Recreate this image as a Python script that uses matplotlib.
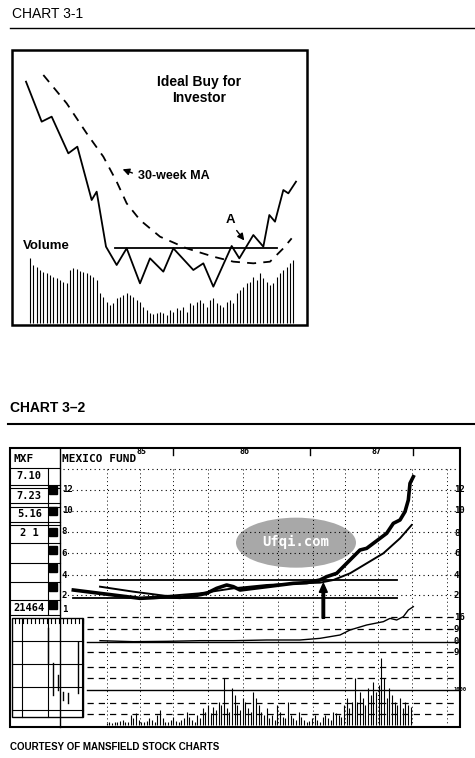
import matplotlib

matplotlib.use("Agg")
import matplotlib.pyplot as plt
from matplotlib.patches import Ellipse, Rectangle, FancyArrow

# ---- Chart 3-1 (values read in 3x zoom pixel units) ----
PRICE1_X = [78, 125, 155, 205, 232, 275, 290, 318, 350, 380, 420, 450, 490, 520, 580, 610, 640,
            695, 718, 760, 790, 808, 825, 850, 865, 888]
PRICE1_Y = [245, 365, 350, 460, 440, 600, 575, 740, 795, 745, 850, 775, 815, 745, 810, 790, 860,
            738, 775, 705, 740, 645, 665, 570, 580, 545]
MA1_X = [130, 200, 260, 310, 350, 380, 420, 480, 560, 640, 700, 760, 810, 850, 875]
MA1_Y = [225, 310, 400, 470, 545, 610, 660, 710, 745, 770, 785, 790, 785, 745, 715]
VOL1_TOP = [775, 795, 800, 810, 815, 820, 825, 830, 835, 840, 845, 850,
            810, 805, 808, 812, 815, 820, 825, 830, 840,
            880, 890, 905, 915, 910,
            895, 890, 885, 880, 885, 890, 900, 905, 920, 930,
            940, 942, 938, 935, 940, 945, 930, 935, 925, 930, 920, 935,
            910, 915, 905, 900, 910, 920, 900, 895, 910, 915, 920, 905, 900, 910,
            880, 870, 860, 850, 845, 830, 840, 820, 835, 845, 855, 850, 830, 820, 810, 800, 790, 780]

# ---- Chart 3-2 ----
PRICE2_X = [220, 260, 300, 340, 380, 420, 460, 500, 540, 580, 620, 650, 680, 700, 720, 760, 800, 840,
            880, 920, 960, 980, 1010, 1040, 1060, 1080, 1100, 1120, 1140, 1160, 1180, 1200, 1215,
            1225, 1230, 1240]
PRICE2_Y = [510, 515, 520, 525, 530, 535, 533, 530, 532, 528, 520, 505, 495, 500, 510, 505, 500, 495,
            490, 488, 480, 470, 460, 430, 410, 390, 385, 370, 355, 340, 310, 300, 275, 240, 190, 170]
MA2_X = [300, 400, 500, 600, 700, 800, 900, 960, 1000, 1050, 1100, 1150, 1200, 1235]
MA2_Y = [500, 515, 528, 520, 505, 495, 490, 488, 480, 460, 430, 400, 355, 315]
RS_X = [300, 400, 500, 600, 700, 800, 900, 960, 1020, 1050, 1100, 1150, 1170, 1190, 1210, 1225, 1240]
RS_Y = [662, 665, 664, 662, 662, 660, 660, 655, 645, 630, 615, 605, 595, 600, 590, 570, 560]
VOL2_H = [5, 8, 6, 10, 8, 12, 15, 10, 8, 30, 20, 35, 15,
          10, 8, 12, 20, 15, 10, 30, 45, 20, 10, 8, 15, 25, 12, 10, 15, 20, 40, 25, 15, 10, 30, 20,
          50, 40, 60, 35, 55, 45, 70, 60, 140, 50, 40, 110, 90, 60, 45, 80, 70, 50, 40, 100, 80, 60,
          40, 30, 50,
          20, 30, 15, 60, 40, 25, 20, 70, 30, 20, 15, 40, 25, 15, 10, 12, 20, 30, 15, 10, 25, 30, 20,
          15, 40,
          35, 30, 25, 60, 80, 50, 70, 140, 70, 100, 80, 60, 110, 90, 130, 100, 120, 200, 140, 80,
          110, 90, 70, 60, 80, 50, 70, 60, 55]
LEFT_AXIS = ["12", "10", "8", "6", "4", "2", "1"]
LEFT_AXIS_Y = [210, 272, 335, 400, 465, 525, 570]
RIGHT_AXIS = ["12", "10", "8", "6", "4", "2", "16", "9", "0", "9"]
RIGHT_AXIS_Y = [210, 272, 340, 400, 465, 525, 592, 627, 665, 697]
INFO_VALUES = ["7.10", "7.23", "5.16", "2 1", "21464"]
INFO_Y = [168, 228, 283, 338, 563]
YEARS = ["85", "86", "87"]
YEARS_X = [425, 735, 1130]

fig = plt.figure(figsize=(4.75, 7.58), dpi=100)
page = fig.add_axes([0, 0, 1, 1])
page.set_xlim(0, 475)
page.set_ylim(758, 0)
page.axis("off")


def zx(v):
    return v / 3


def zy2(v):
    return 420 + v / 3


bold = dict(family="Liberation Sans", fontweight="bold", color="black")
mono = dict(family="DejaVu Sans Mono", fontweight="bold", color="black")

# chart 3-1
page.text(12, 14, "CHART 3-1", fontsize=10, family="Liberation Sans", va="center")
page.plot([10, 475], [28, 28], color="black", lw=1)
page.add_patch(Rectangle((12, 50), 295, 275, fill=False, lw=1.8, ec="black"))
page.vlines([zx(90 + 10 * i) for i in range(len(VOL1_TOP))], [zx(t) for t in VOL1_TOP], 323,
            color="black", lw=0.8)
page.plot([zx(v) for v in PRICE1_X], [zx(v) for v in PRICE1_Y], color="black", lw=1.3)
page.plot([zx(v) for v in MA1_X], [zx(v) for v in MA1_Y], color="black", lw=1.3, ls=(0, (5, 4)))
page.plot([zx(345), zx(830)], [zx(743), zx(743)], color="black", lw=1.3)
page.text(zx(598), zx(245), "Ideal Buy for", fontsize=10, ha="center", va="center", **bold)
page.text(zx(598), zx(295), "Investor", fontsize=10, ha="center", va="center", **bold)
page.text(zx(415), zx(528), "30-week MA", fontsize=9, va="center", **bold)
page.annotate("", xy=(zx(360), zx(505)), xytext=(zx(405), zx(522)),
              arrowprops=dict(arrowstyle="-|>", color="black", lw=1))
page.text(zx(690), zx(660), "A", fontsize=9.5, ha="center", va="center", **bold)
page.annotate("", xy=(zx(738), zx(728)), xytext=(zx(705), zx(685)),
              arrowprops=dict(arrowstyle="-|>", color="black", lw=1))
page.text(zx(68), zx(738), "Volume", fontsize=9.5, va="center", **bold)

# chart 3-2
page.text(10, 408, "CHART 3–2", fontsize=10, va="center", **bold)
page.plot([8, 475], [424, 424], color="black", lw=1.5)
page.add_patch(Rectangle((10, 448), 450, 279, fill=False, lw=1.5, ec="black"))
page.plot([zx(180), zx(180)], [448, 727], color="black", lw=1)
page.plot([zx(1240), zx(1240)], [448, 455], color="black", lw=1)
page.plot([zx(520), zx(520)], [448, 455], color="black", lw=1)
page.plot([zx(930), zx(930)], [448, 455], color="black", lw=1)
page.text(zx(40), zy2(118), "MXF", fontsize=8, va="center", **mono)
page.text(zx(185), zy2(118), "MEXICO FUND", fontsize=8, va="center", **mono)
for lab, x in zip(YEARS, YEARS_X):
    page.text(zx(x), zy2(95), lab, fontsize=6, ha="center", va="center", **mono)

# left info column
for y in [145, 195, 205, 250, 260, 305, 315, 370, 430, 485, 540, 585]:
    page.plot([zx(30), zx(180)], [zy2(y), zy2(y)], color="black", lw=0.8)
page.plot([zx(145), zx(145)], [zy2(145), zy2(585)], color="black", lw=0.8)
for lab, y in zip(INFO_VALUES, INFO_Y):
    page.text(zx(88), zy2(y), lab, fontsize=7.5, ha="center", va="center", **mono)
for y in [210, 272, 335, 390, 445, 500, 555]:
    page.add_patch(Rectangle((zx(147), zy2(y) - 4), 8, 8, color="black"))

# grid
xg = [320, 420, 520, 625, 730, 835, 940, 1035, 1135, 1235, 1340]
for x in xg:
    page.plot([zx(x), zx(x)], [zy2(148), zy2(910)], color="black", lw=0.7, ls=(0, (1, 3)))
for y in [148, 210, 272, 335, 400, 465, 525]:
    page.plot([zx(190), zx(1375)], [zy2(y), zy2(y)], color="black", lw=0.8, ls=(0, (1, 3)))
for y in [592, 627, 697, 740, 773, 848, 883]:
    page.plot([zx(260), zx(1375)], [zy2(y), zy2(y)], color="black", lw=0.9, ls=(0, (5, 4)))
for y in [665, 810]:
    page.plot([zx(260), zx(1375)], [zy2(y), zy2(y)], color="black", lw=1)
for lab, y in zip(LEFT_AXIS, LEFT_AXIS_Y):
    page.text(zx(185), zy2(y), lab, fontsize=6.5, va="center", **mono)
for lab, y in zip(RIGHT_AXIS, RIGHT_AXIS_Y):
    page.text(zx(1362), zy2(y), lab, fontsize=6.5, va="center", **mono)
page.text(zx(1362), zy2(808), "1000", fontsize=4, va="center", **mono)

# price, MA, base lines
page.plot([zx(300), zx(1190)], [zy2(480), zy2(480)], color="black", lw=1.3)
page.plot([zx(220), zx(1190)], [zy2(535), zy2(535)], color="black", lw=1.3)
page.plot([zx(v) for v in PRICE2_X], [zy2(v) for v in PRICE2_Y], color="black", lw=2.6)
page.plot([zx(v) for v in MA2_X], [zy2(v) for v in MA2_Y], color="black", lw=1.4)
page.plot([zx(v) for v in RS_X], [zy2(v) for v in RS_Y], color="black", lw=1)
page.add_patch(FancyArrow(zx(970), zy2(595), 0, -26, width=2.5, head_width=8, head_length=9,
                          color="black"))
page.vlines([zx(320 + 8 * i) for i in range(len(VOL2_H))], [zy2(915 - h) for h in VOL2_H], zy2(915),
            color="black", lw=0.8)

# inset
page.add_patch(Rectangle((zx(35), zy2(595)), zx(215), zx(295), fill=False, lw=1, ec="black"))
for y in [662, 733, 800, 870]:
    page.plot([zx(35), zx(250)], [zy2(y), zy2(y)], color="black", lw=0.8)
for x in [65, 145, 245]:
    page.plot([zx(x), zx(x)], [zy2(595), zy2(890)], color="black", lw=0.8)
for x, y0, y1 in [(145, 625, 730), (160, 730, 825), (175, 765, 810), (190, 815, 840),
                  (205, 820, 850), (235, 665, 820)]:
    page.plot([zx(x), zx(x)], [zy2(y0), zy2(y1)], color="black", lw=1)
for x in range(45, 250, 12):
    page.plot([zx(x), zx(x)], [zy2(598), zy2(608)], color="black", lw=0.8)

# watermark
page.add_patch(Ellipse((zx(888), zy2(368)), 120, 50, color="#a8a8a8", lw=0))
page.text(zx(888), zy2(365), "Ufqi.com", fontsize=10, color="white", ha="center", va="center",
          family="DejaVu Sans Mono", fontweight="bold")

page.text(10, 747, "COURTESY OF MANSFIELD STOCK CHARTS", fontsize=7, va="center", **bold)

fig.savefig("out.png", dpi=100)
